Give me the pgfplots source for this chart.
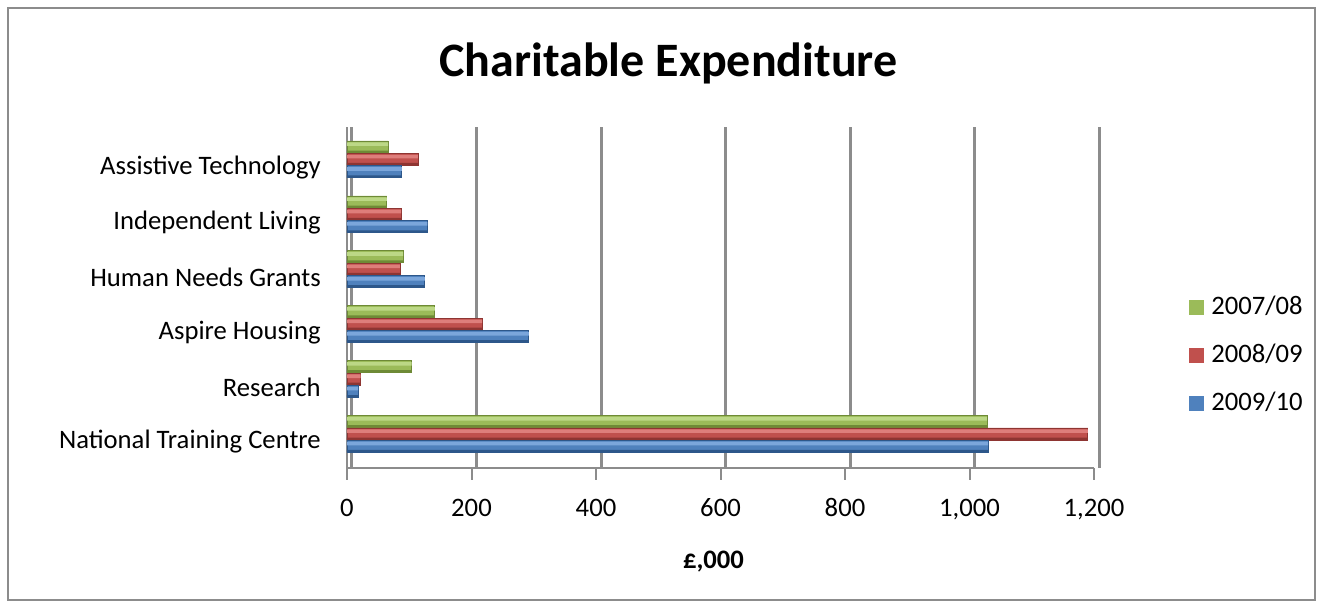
\documentclass[border=0pt]{standalone}
\usepackage{pgfplots}
\usepackage{pgfplotstable}
\pgfplotsset{compat=1.18}
\usepackage{fontspec}
\setmainfont{Carlito}
\definecolor{cg}{HTML}{9BBB59}
\definecolor{cgl}{HTML}{BCD886}
\definecolor{cgd}{HTML}{6E8A36}
\definecolor{cr}{HTML}{C0504D}
\definecolor{crl}{HTML}{DE7E7B}
\definecolor{crd}{HTML}{8E3532}
\definecolor{cb}{HTML}{4F81BD}
\definecolor{cbl}{HTML}{7BA6DB}
\definecolor{cbd}{HTML}{2D578A}
\definecolor{axgray}{HTML}{8C8C8C}
\pgfplotstableread{
y  g     r     b
0  1028  1190  1030
1  104   22    18
2  141   217   292
3  90    85    125
4  64    87    129
5  66    114   88
}\datatab
\begin{document}
\fontsize{13.33pt}{16pt}\selectfont
\begin{tikzpicture}
\useasboundingbox (0,0) rectangle (661.5pt,304pt);
\draw[color=axgray, line width=1pt] (4pt,4pt) rectangle (657.5pt,300pt);
\node[font=\fontsize{24pt}{28pt}\selectfont\bfseries, anchor=base, inner sep=0pt] at (334.25pt,265.5pt) {Charitable Expenditure};
\node[font=\bfseries, anchor=base, inner sep=0pt] at (356.75pt,19.5pt) {£,000};
\begin{axis}[
  at={(173.5pt,70pt)}, anchor=south west,
  scale only axis, width=373.5pt, height=170.5pt,
  xmin=0, xmax=1200, ymin=-0.62, ymax=5.59,
  axis x line*=bottom, axis y line*=left,
  axis line style={-, draw=axgray, line width=1.2pt},
  xtick={0,200,...,1200},
  ytick={0,1,2,3,4,5},
  yticklabels={National Training Centre, Research, Aspire Housing, Human Needs Grants, Independent Living, Assistive Technology},
  /pgf/number format/assume math mode=true,
  /pgf/number format/1000 sep={,},
  xmajorgrids,
  major grid style={draw=axgray, line width=1.5pt, xshift=2.5pt},
  x tick style={draw=axgray, line width=1pt},
  y tick style={draw=none},
  tick align=outside,
  major tick length=6pt,
  x tick label style={anchor=base, yshift=-18.5pt},
  y tick label style={anchor=east, xshift=-2.5pt, yshift=-4pt},
  legend image code/.code={\fill[#1] (0pt,-0.25pt) rectangle (7.5pt,7.25pt);},
  legend style={at={(axis description cs:1.127,0.331)}, anchor=west, draw=none, fill=none, inner sep=0pt, row sep=12.6pt, column sep=3.5pt, nodes={inner sep=0pt, anchor=base west}},
  legend cell align=left,
]
% 2007/08 (green)
\addplot[forget plot, xbar, bar width=6pt, bar shift=6.2pt, draw=cgd, line width=0.4pt, fill=cg] table[x=g, y=y] {\datatab};
\addplot[forget plot, xbar, bar width=1.8pt, bar shift=7.6pt, draw=none, fill=cgl] table[x=g, y=y] {\datatab};
\addplot[forget plot, xbar, bar width=1.2pt, bar shift=3.8pt, draw=none, fill=cgd] table[x=g, y=y] {\datatab};
% 2008/09 (red)
\addplot[forget plot, xbar, bar width=6pt, bar shift=0pt, draw=crd, line width=0.4pt, fill=cr] table[x=r, y=y] {\datatab};
\addplot[forget plot, xbar, bar width=1.8pt, bar shift=1.4pt, draw=none, fill=crl] table[x=r, y=y] {\datatab};
\addplot[forget plot, xbar, bar width=1.2pt, bar shift=-2.4pt, draw=none, fill=crd] table[x=r, y=y] {\datatab};
% 2009/10 (blue)
\addplot[forget plot, xbar, bar width=6pt, bar shift=-6.2pt, draw=cbd, line width=0.4pt, fill=cb] table[x=b, y=y] {\datatab};
\addplot[forget plot, xbar, bar width=1.8pt, bar shift=-4.8pt, draw=none, fill=cbl] table[x=b, y=y] {\datatab};
\addplot[forget plot, xbar, bar width=1.2pt, bar shift=-8.6pt, draw=none, fill=cbd] table[x=b, y=y] {\datatab};
\addlegendimage{fill=cg, draw=none}
\addlegendentry{2007/08}
\addlegendimage{fill=cr, draw=none}
\addlegendentry{2008/09}
\addlegendimage{fill=cb, draw=none}
\addlegendentry{2009/10}
\end{axis}
\end{tikzpicture}
\end{document}
